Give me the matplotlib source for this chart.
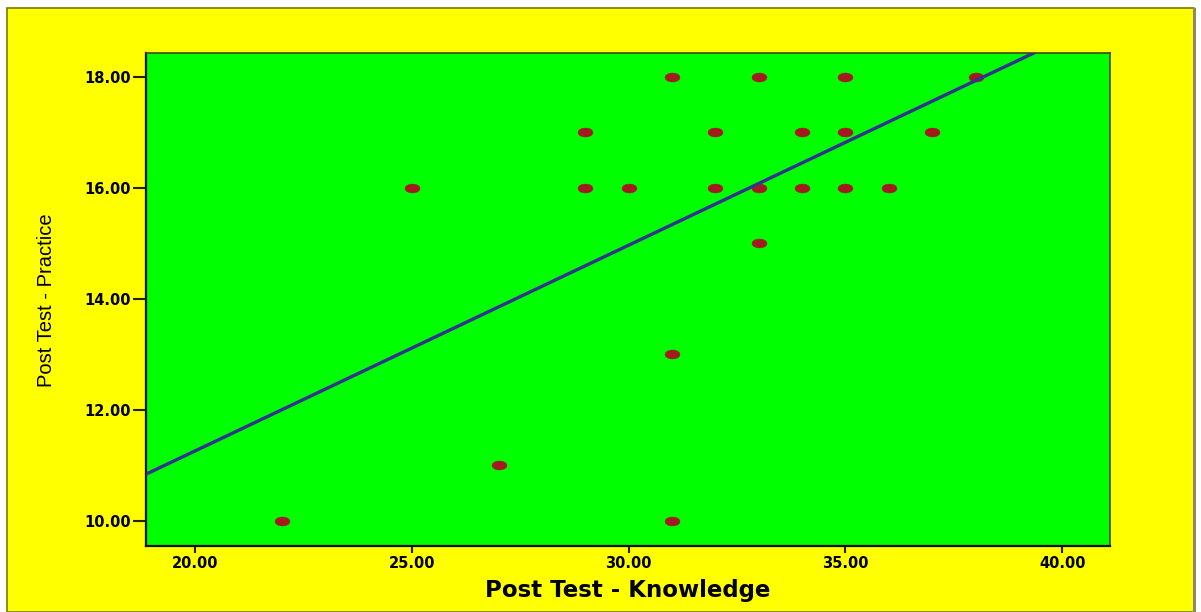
import numpy as np
import matplotlib
matplotlib.use("Agg")
import matplotlib.pyplot as plt
from matplotlib.path import Path
from matplotlib.patches import Rectangle

# Data
knowledge = [22, 25, 27, 29, 29, 30, 31, 31, 31, 32, 32, 33, 33, 33, 34, 34, 35, 35, 35, 36, 37, 38]
practice  = [10, 16, 11, 17, 16, 16, 18, 13, 10, 17, 16, 18, 16, 15, 17, 16, 18, 17, 16, 16, 17, 18]
fit_intercept = 3.85
fit_slope = 0.3706
x_ticks = [20, 25, 30, 35, 40]
y_ticks = [10, 12, 14, 16, 18]
x_label = "Post Test - Knowledge"
y_label = "Post Test - Practice"

fig = plt.figure(figsize=(12.01, 6.12), dpi=100, facecolor="white")

# yellow frame
fig.patches.append(Rectangle((7 / 1201, 0), (1194 - 7) / 1201, (612 - 8) / 612,
                             transform=fig.transFigure, facecolor="#FFFF00",
                             edgecolor="#7a7a00", linewidth=1.2, zorder=-2))
fig.patches.append(Rectangle((1193 / 1201, 0), 2.5 / 1201, (612 - 8) / 612,
                             transform=fig.transFigure, facecolor="#8a8a6a",
                             edgecolor="none", zorder=-1))

ax = fig.add_axes([146 / 1201, 66 / 612, (1110 - 146) / 1201, (546 - 53) / 612])
ax.set_zorder(5)
ax.set_facecolor("#00FF00")

# ellipse marker
t = np.linspace(0, 2 * np.pi, 60)
ell = Path(np.column_stack([np.cos(t), 0.6 * np.sin(t)]), closed=True)

ax.plot(knowledge, practice, linestyle="none", marker=ell, markersize=10.8,
        markerfacecolor="#A51A1E", markeredgecolor="#A51A1E", markeredgewidth=0.3, zorder=3)

ax.axline((0, fit_intercept), slope=fit_slope, color="#33338f", linewidth=2.4, zorder=4)

ax.set_xlim(18.87, 41.1)
ax.set_ylim(9.55, 18.43)
ax.set_xticks(x_ticks)
ax.set_yticks(y_ticks)
ax.set_xticklabels([f"{v:.2f}" for v in x_ticks])
ax.set_yticklabels([f"{v:.2f}" for v in y_ticks])

for lab in ax.get_xticklabels() + ax.get_yticklabels():
    lab.set_fontweight("bold")
    lab.set_fontsize(10.5)
    lab.set_family("DejaVu Sans")

ax.tick_params(axis="y", direction="out", length=9.5, width=1.5, pad=1.5, color="#222200")
ax.tick_params(axis="x", direction="out", length=5, width=1.5, pad=2, color="#222200")

for s in ["left", "bottom"]:
    ax.spines[s].set_color("#111100")
    ax.spines[s].set_linewidth(1.6)
for s in ["top", "right"]:
    ax.spines[s].set_color("#3c4a00")
    ax.spines[s].set_linewidth(1.2)

fig.text(628 / 1201, 1 - 591 / 612, x_label, ha="center", va="center",
         fontsize=16.5, fontweight="bold", family="DejaVu Sans")
fig.text(47 / 1201, 1 - 300 / 612, y_label, ha="center", va="center", rotation=90,
         fontsize=14.5, family="Liberation Sans")

fig.savefig("out.png", dpi=100, facecolor=fig.get_facecolor())
